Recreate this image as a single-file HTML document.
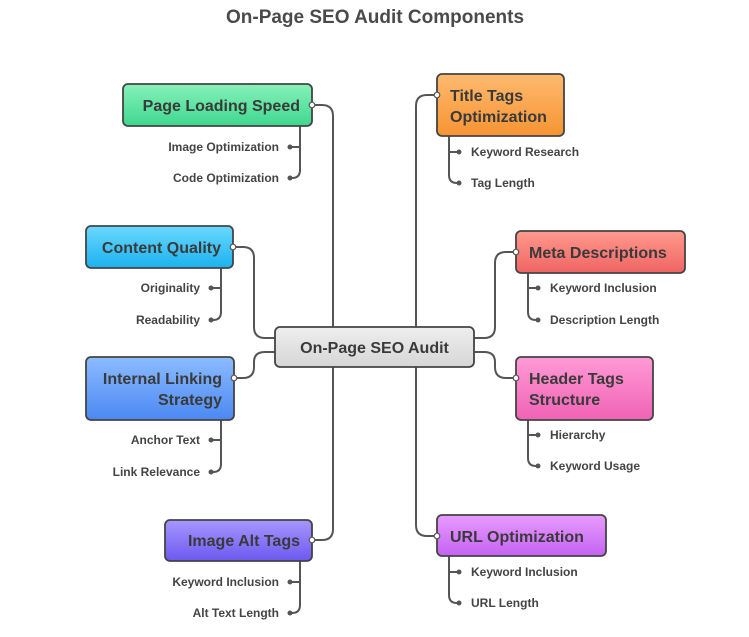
<!DOCTYPE html>
<html><head><meta charset="utf-8"><style>
html,body{margin:0;padding:0;background:#fff;}
svg{display:block;font-family:"Liberation Sans",sans-serif;}
.t{font-weight:bold;font-size:16px;fill:#3a3a3a;}
.s{font-weight:bold;font-size:12px;fill:#444;}
.ln{fill:none;stroke:#555;stroke-width:2;}
.bx{stroke:#444;stroke-width:1.8;}
</style></head><body>
<svg width="749" height="637" viewBox="0 0 749 637">
<defs>
<linearGradient id="g1" x1="0" y1="0" x2="0" y2="1"><stop offset="0" stop-color="#86f2b8"/><stop offset="1" stop-color="#3fd78f"/></linearGradient>
<linearGradient id="g2" x1="0" y1="0" x2="0" y2="1"><stop offset="0" stop-color="#6ad8ff"/><stop offset="1" stop-color="#1bb2ee"/></linearGradient>
<linearGradient id="g3" x1="0" y1="0" x2="0" y2="1"><stop offset="0" stop-color="#8bbcff"/><stop offset="1" stop-color="#4c88f2"/></linearGradient>
<linearGradient id="g4" x1="0" y1="0" x2="0" y2="1"><stop offset="0" stop-color="#a597ff"/><stop offset="1" stop-color="#6e58f0"/></linearGradient>
<linearGradient id="g5" x1="0" y1="0" x2="0" y2="1"><stop offset="0" stop-color="#ffba6e"/><stop offset="1" stop-color="#f59433"/></linearGradient>
<linearGradient id="g6" x1="0" y1="0" x2="0" y2="1"><stop offset="0" stop-color="#ff9a8e"/><stop offset="1" stop-color="#f06464"/></linearGradient>
<linearGradient id="g7" x1="0" y1="0" x2="0" y2="1"><stop offset="0" stop-color="#ff9ad6"/><stop offset="1" stop-color="#f062b4"/></linearGradient>
<linearGradient id="g8" x1="0" y1="0" x2="0" y2="1"><stop offset="0" stop-color="#e89bff"/><stop offset="1" stop-color="#c463f2"/></linearGradient>
<linearGradient id="g0" x1="0" y1="0" x2="0" y2="1"><stop offset="0" stop-color="#eeeeee"/><stop offset="1" stop-color="#d6d6d6"/></linearGradient>
</defs>
<text x="375" y="23" text-anchor="middle" style="font-weight:bold;font-size:19px;fill:#4a4a4a">On-Page SEO Audit Components</text>

<!-- main connectors -->
<path class="ln" d="M312 105 H322 Q333 105 333 116 V327"/>
<path class="ln" d="M233 247 H243 Q254 247 254 258 V327 Q254 338 265 338 H275"/>
<path class="ln" d="M234 378 H243 Q254 378 254 367 V362 Q254 352 265 352 H275"/>
<path class="ln" d="M312 540 H322 Q333 540 333 529 V367"/>
<path class="ln" d="M437 95 H427 Q416 95 416 106 V327"/>
<path class="ln" d="M516 252 H506 Q495 252 495 263 V327 Q495 338 484 338 H474"/>
<path class="ln" d="M516 378 H506 Q495 378 495 367 V362 Q495 352 484 352 H474"/>
<path class="ln" d="M437 536 H427 Q416 536 416 525 V367"/>

<!-- sub connectors -->
<path class="ln" d="M300 126 V170 Q300 178 292 178 H290 M300 147 H290"/>
<path class="ln" d="M221 268 V312 Q221 320 213 320 H211 M221 288 H211"/>
<path class="ln" d="M221 420 V464 Q221 472 213 472 H211 M221 440 H211"/>
<path class="ln" d="M300 561 V605 Q300 613 292 613 H290 M300 582 H290"/>
<path class="ln" d="M449 136 V175 Q449 183 457 183 H459 M449 152 H459"/>
<path class="ln" d="M528 273 V312 Q528 320 536 320 H538 M528 288 H538"/>
<path class="ln" d="M528 420 V458 Q528 466 536 466 H538 M528 435 H538"/>
<path class="ln" d="M449 556 V595 Q449 603 457 603 H459 M449 572 H459"/>
<g fill="#555">
<circle cx="290" cy="147" r="2.5"/><circle cx="290" cy="178" r="2.5"/>
<circle cx="211" cy="288" r="2.5"/><circle cx="211" cy="320" r="2.5"/>
<circle cx="211" cy="440" r="2.5"/><circle cx="211" cy="472" r="2.5"/>
<circle cx="290" cy="582" r="2.5"/><circle cx="290" cy="613" r="2.5"/>
<circle cx="459" cy="152" r="2.5"/><circle cx="459" cy="183" r="2.5"/>
<circle cx="538" cy="288" r="2.5"/><circle cx="538" cy="320" r="2.5"/>
<circle cx="538" cy="435" r="2.5"/><circle cx="538" cy="466" r="2.5"/>
<circle cx="459" cy="572" r="2.5"/><circle cx="459" cy="603" r="2.5"/>
</g>

<!-- boxes -->
<rect class="bx" x="275" y="327" width="199" height="40" rx="5" fill="url(#g0)"/>
<text class="t" x="374.5" y="353" text-anchor="middle">On-Page SEO Audit</text>

<rect class="bx" x="123" y="84" width="189" height="42" rx="5" fill="url(#g1)"/>
<text class="t" x="300" y="111" text-anchor="end">Page Loading Speed</text>
<rect class="bx" x="86" y="226" width="147" height="42" rx="5" fill="url(#g2)"/>
<text class="t" x="221" y="253" text-anchor="end">Content Quality</text>
<rect class="bx" x="86" y="357" width="148" height="63" rx="5" fill="url(#g3)"/>
<text class="t" x="222" y="384" text-anchor="end">Internal Linking</text>
<text class="t" x="222" y="405" text-anchor="end">Strategy</text>
<rect class="bx" x="165" y="520" width="147" height="41" rx="5" fill="url(#g4)"/>
<text class="t" x="300" y="546" text-anchor="end">Image Alt Tags</text>

<rect class="bx" x="437" y="74" width="127" height="62" rx="5" fill="url(#g5)"/>
<text class="t" x="450" y="101">Title Tags</text>
<text class="t" x="450" y="122">Optimization</text>
<rect class="bx" x="516" y="231" width="169" height="42" rx="5" fill="url(#g6)"/>
<text class="t" x="529" y="258">Meta Descriptions</text>
<rect class="bx" x="516" y="357" width="137" height="63" rx="5" fill="url(#g7)"/>
<text class="t" x="529" y="384">Header Tags</text>
<text class="t" x="529" y="405">Structure</text>
<rect class="bx" x="437" y="515" width="169" height="41" rx="5" fill="url(#g8)"/>
<text class="t" x="450" y="542">URL Optimization</text>

<!-- port dots -->
<g fill="#fff" stroke="#555" stroke-width="1.2">
<circle cx="312" cy="105" r="2.8"/><circle cx="233" cy="247" r="2.8"/>
<circle cx="234" cy="378" r="2.8"/><circle cx="312" cy="540" r="2.8"/>
<circle cx="437" cy="95" r="2.8"/><circle cx="516" cy="252" r="2.8"/>
<circle cx="516" cy="378" r="2.8"/><circle cx="437" cy="536" r="2.8"/>
</g>

<!-- sub labels -->
<text class="s" x="279" y="151" text-anchor="end">Image Optimization</text>
<text class="s" x="279" y="182" text-anchor="end">Code Optimization</text>
<text class="s" x="200" y="292" text-anchor="end">Originality</text>
<text class="s" x="200" y="324" text-anchor="end">Readability</text>
<text class="s" x="200" y="444" text-anchor="end">Anchor Text</text>
<text class="s" x="200" y="476" text-anchor="end">Link Relevance</text>
<text class="s" x="279" y="586" text-anchor="end">Keyword Inclusion</text>
<text class="s" x="279" y="617" text-anchor="end">Alt Text Length</text>
<text class="s" x="471" y="156">Keyword Research</text>
<text class="s" x="471" y="187">Tag Length</text>
<text class="s" x="550" y="292">Keyword Inclusion</text>
<text class="s" x="550" y="324">Description Length</text>
<text class="s" x="550" y="439">Hierarchy</text>
<text class="s" x="550" y="470">Keyword Usage</text>
<text class="s" x="471" y="576">Keyword Inclusion</text>
<text class="s" x="471" y="607">URL Length</text>
</svg>
</body></html>
